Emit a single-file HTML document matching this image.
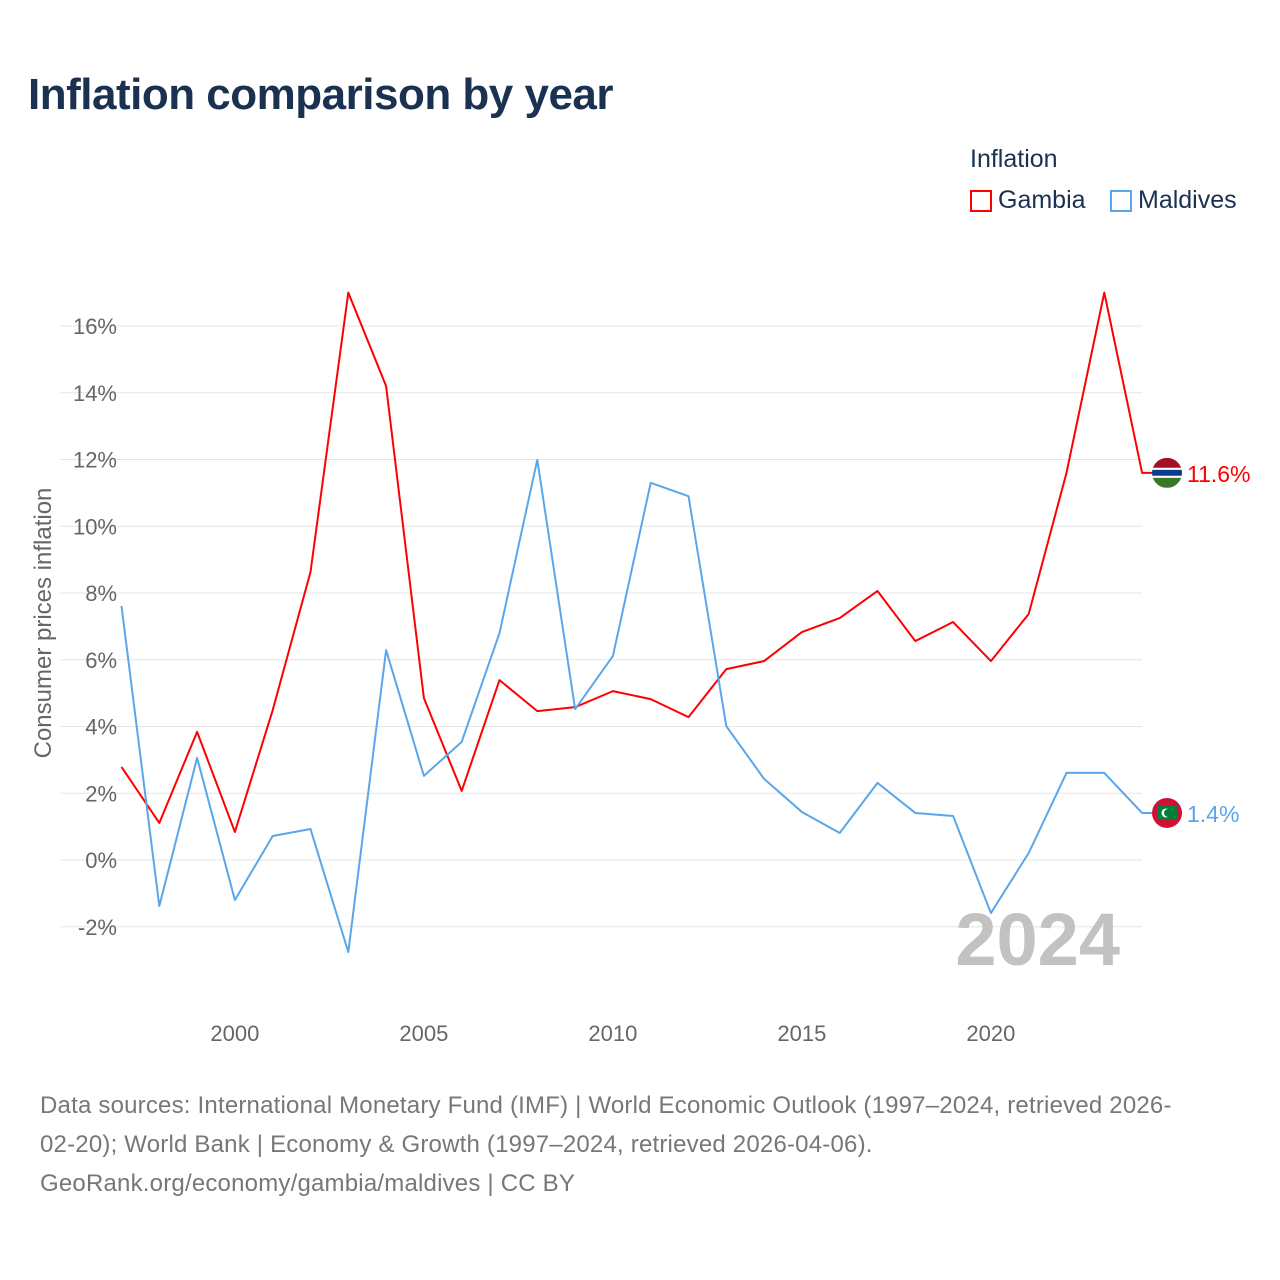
<!DOCTYPE html>
<html><head><meta charset="utf-8">
<style>
body{margin:0;background:#fff;font-family:"Liberation Sans",sans-serif;}
#wrap{position:relative;width:1280px;height:1280px;overflow:hidden;}
h1{position:absolute;left:28px;top:70px;margin:0;font-size:44px;font-weight:bold;color:#1a3152;letter-spacing:-0.5px;}
.legend-title{position:absolute;left:970px;top:145px;font-size:25px;color:#1a3152;}
.leg{position:absolute;top:186px;font-size:25px;color:#1a3152;display:flex;align-items:center;}
.leg span.box{display:inline-block;width:22px;height:22px;border:2px solid;margin-right:6px;box-sizing:border-box;}
.foot{position:absolute;left:40px;top:1086px;width:1230px;font-size:24px;line-height:39px;color:#777;letter-spacing:0.2px;white-space:nowrap;}
</style></head><body>
<div id="wrap">
<h1>Inflation comparison by year</h1>
<div class="legend-title">Inflation</div>
<div class="leg" style="left:970px"><span class="box" style="border-color:#f00"></span>Gambia</div>
<div class="leg" style="left:1110px"><span class="box" style="border-color:#5aa6ea"></span>Maldives</div>
<svg id="chart" width="1280" height="1280" style="position:absolute;left:0;top:0"></svg>
<div class="foot">Data sources: International Monetary Fund (IMF) | World Economic Outlook (1997–2024, retrieved 2026-<br>02-20); World Bank | Economy &amp; Growth (1997–2024, retrieved 2026-04-06).<br>GeoRank.org/economy/gambia/maldives | CC BY</div>
</div>
<script>
const years=[1997,1998,1999,2000,2001,2002,2003,2004,2005,2006,2007,2008,2009,2010,2011,2012,2013,2014,2015,2016,2017,2018,2019,2020,2021,2022,2023,2024];
const gambia=[2.79,1.11,3.84,0.84,4.49,8.63,17.0,14.2,4.85,2.07,5.39,4.46,4.58,5.06,4.82,4.28,5.72,5.96,6.83,7.25,8.06,6.56,7.13,5.96,7.37,11.6,17.0,11.6];
const maldives=[7.61,-1.38,3.06,-1.2,0.72,0.93,-2.76,6.29,2.52,3.54,6.8,11.99,4.52,6.11,11.3,10.9,4.01,2.43,1.44,0.81,2.31,1.41,1.32,-1.59,0.21,2.61,2.61,1.41];
const yTicks=[-2,0,2,4,6,8,10,12,14,16];
const xTicks=[2000,2005,2010,2015,2020];
const NS="http://www.w3.org/2000/svg";
const svg=document.getElementById('chart');
function x(v){return 121.5+(v-1997)*37.8;}
function y(v){return 860-v*33.375;}
function mk(t,a){const e=document.createElementNS(NS,t);for(const k in a)e.setAttribute(k,a[k]);svg.appendChild(e);return e;}
yTicks.forEach(t=>{
 const g=mk('line',{x1:60,x2:1142,y1:y(t),y2:y(t),stroke:'#e6e6e6','stroke-width':1});
 
 
 const l=mk('text',{x:117,y:y(t)+8,'text-anchor':'end','font-size':22,fill:'#666','font-family':'Liberation Sans, sans-serif'});
 l.textContent=t+'%';
 
 
});
xTicks.forEach(t=>{
 const l=mk('text',{x:x(t),y:1041,'text-anchor':'middle','font-size':22,fill:'#666','font-family':'Liberation Sans, sans-serif'});
 l.textContent=t;
 
 
});
const yt=mk('text',{x:0,y:0,transform:'translate(51,623) rotate(-90)','text-anchor':'middle','font-size':24,fill:'#666','font-family':'Liberation Sans, sans-serif'});
yt.textContent='Consumer prices inflation';


const wm=mk('text',{x:1120,y:965,'text-anchor':'end','font-size':74,'font-weight':'bold',fill:'#c2c2c2','font-family':'Liberation Sans, sans-serif'});
wm.textContent='2024';


function series(vals,color,name){
 let pts=vals.map((v,i)=>x(years[i])+','+y(v));
 pts.push('1152,'+y(vals[vals.length-1]));
 const p=mk('polyline',{points:pts.join(' '),fill:'none',stroke:color,'stroke-width':2,'stroke-linejoin':'round'});
 
 
 const last=vals[vals.length-1];
 const lb=mk('text',{x:1187,y:y(last)+9,'font-size':23,fill:color,'font-family':'Liberation Sans, sans-serif'});
 lb.textContent=last.toFixed(1)+'%';
 
 
 return y(last);
}
const gy=series(gambia,'#ff0000','gambia');
const my=series(maldives,'#5aa6ea','maldives');
const cp=mk('clipPath',{id:'cg'});
const cc=document.createElementNS(NS,'circle');cc.setAttribute('cx',1167);cc.setAttribute('cy',gy);cc.setAttribute('r',15);cp.appendChild(cc);
const gg=mk('g',{'clip-path':'url(#cg)'});


[['#a50f26',-15,10],['#fff',-5,2],['#0c3c8c',-3,6],['#fff',3,2],['#3a7728',5,10]].forEach(s=>{
 const r=document.createElementNS(NS,'rect');r.setAttribute('x',1150);r.setAttribute('y',gy+s[1]);r.setAttribute('width',34);r.setAttribute('height',s[2]);r.setAttribute('fill',s[0]);gg.appendChild(r);});
const mf=mk('circle',{cx:1167,cy:my,r:15,fill:'#d21034'});


mk('rect',{x:1157,y:my-7,width:20,height:14,fill:'#007e3a'});
mk('circle',{cx:1166,cy:my,r:4.5,fill:'#fff'});
mk('circle',{cx:1168,cy:my,r:4,fill:'#007e3a'});
</script>
</body></html>
